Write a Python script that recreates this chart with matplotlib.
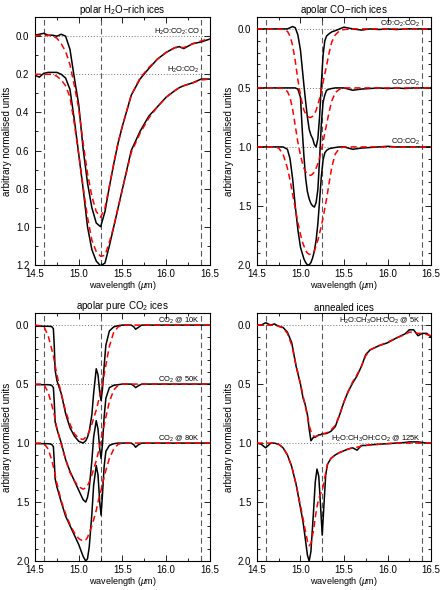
import matplotlib.pyplot as plt
from matplotlib.ticker import MultipleLocator, FormatStrFormatter

plt.rcParams['font.family'] = ['Liberation Sans', 'DejaVu Sans']
plt.rcParams['mathtext.fontset'] = 'custom'
plt.rcParams['mathtext.rm'] = 'Liberation Sans'
plt.rcParams['mathtext.it'] = 'Liberation Sans:italic'

#==================== panel 1 : polar H2O-rich ices ====================
wl1 = [14.5, 14.55, 14.6, 14.65, 14.7, 14.75, 14.8, 14.85, 14.9, 14.95, 15.0, 15.05,
       15.1, 15.15, 15.2, 15.25, 15.3, 15.35, 15.4, 15.45, 15.5, 15.6, 15.7, 15.8,
       15.9, 16.0, 16.1, 16.15, 16.2, 16.3, 16.4, 16.5]
h2o_co2_co = [-0.005, -0.01, -0.015, -0.005, -0.005, 0.0, -0.01, 0.0, 0.07, 0.22, 0.36, 0.59,
              0.77, 0.9, 0.98, 1.0, 0.92, 0.79, 0.67, 0.56, 0.47, 0.31, 0.225, 0.17,
              0.12, 0.085, 0.06, 0.055, 0.065, 0.04, 0.03, 0.015]
h2o_co2_co_fit = [0.0, -0.005, 0.0, -0.005, 0.0, 0.01, 0.04, 0.08, 0.15, 0.26, 0.38, 0.56,
                  0.72, 0.84, 0.92, 0.95, 0.9, 0.79, 0.67, 0.56, 0.47, 0.31, 0.22, 0.165,
                  0.12, 0.085, 0.06, 0.06, 0.06, 0.04, 0.025, 0.012]
h2o_co2 = [0.205, 0.215, 0.195, 0.19, 0.19, 0.19, 0.2, 0.22, 0.28, 0.44, 0.62, 0.8,
           1.0, 1.12, 1.18, 1.205, 1.19, 1.1, 1.0, 0.9, 0.8, 0.6, 0.5, 0.42,
           0.37, 0.32, 0.285, 0.27, 0.26, 0.245, 0.225, 0.225]
h2o_co2_fit = [0.2, 0.2, 0.2, 0.2, 0.2, 0.21, 0.23, 0.26, 0.32, 0.46, 0.62, 0.79,
               0.95, 1.07, 1.13, 1.155, 1.15, 1.08, 1.0, 0.9, 0.8, 0.61, 0.51, 0.43,
               0.37, 0.32, 0.285, 0.27, 0.26, 0.245, 0.23, 0.225]

#==================== panel 2 : apolar CO-rich ices ====================
wl2 = [14.5, 14.6, 14.7, 14.75, 14.8, 14.85, 14.88, 14.91, 14.94, 14.97, 15.0, 15.02,
       15.04, 15.06, 15.08, 15.1, 15.12, 15.14, 15.16, 15.18, 15.2, 15.22, 15.24, 15.26,
       15.28, 15.3, 15.33, 15.36, 15.4, 15.45, 15.5, 15.6, 15.7, 15.8, 15.9, 16.0,
       16.1, 16.2, 16.3, 16.4, 16.5]
co_o2_co2 = [0.0, 0.0, 0.0, 0.0, 0.0, 0.0, -0.01, -0.02, -0.01, 0.05, 0.18, 0.33,
             0.48, 0.62, 0.75, 0.85, 0.9, 0.93, 0.98, 1.0, 0.93, 0.74, 0.46, 0.22,
             0.1, 0.06, 0.04, 0.025, 0.015, 0.0, -0.015, 0.0, 0.01, 0.0, 0.005, 0.0,
             0.005, 0.0, 0.0, 0.0, 0.0]
co_o2_co2_fit = [0.0, 0.0, 0.0, 0.0, 0.005, 0.02, 0.06, 0.14, 0.27, 0.43, 0.56, 0.63,
                 0.69, 0.72, 0.74, 0.75, 0.75, 0.74, 0.72, 0.69, 0.64, 0.59, 0.52, 0.45,
                 0.38, 0.31, 0.2, 0.11, 0.05, 0.015, 0.005, 0.0, 0.0, 0.0, 0.0, 0.0,
                 0.0, 0.0, 0.0, 0.0, 0.0]
co_co2_a = [0.5, 0.5, 0.5, 0.5, 0.5, 0.5, 0.5, 0.5, 0.5, 0.51, 0.58, 0.85,
            1.08, 1.27, 1.38, 1.44, 1.48, 1.5, 1.51, 1.47, 1.36, 1.1, 0.8, 0.62,
            0.56, 0.52, 0.51, 0.505, 0.5, 0.5, 0.5, 0.52, 0.51, 0.505, 0.5, 0.505,
            0.5, 0.505, 0.5, 0.5, 0.5]
co_co2_a_fit = [0.5, 0.5, 0.5, 0.5, 0.505, 0.53, 0.58, 0.68, 0.82, 0.96, 1.07, 1.13,
                1.18, 1.21, 1.23, 1.24, 1.24, 1.23, 1.21, 1.18, 1.14, 1.09, 1.03, 0.96,
                0.88, 0.81, 0.7, 0.61, 0.54, 0.51, 0.5, 0.5, 0.5, 0.5, 0.5, 0.5,
                0.5, 0.5, 0.5, 0.5, 0.5]
co_co2_b = [1.0, 1.0, 1.0, 1.0, 1.0, 1.02, 1.1, 1.27, 1.5, 1.7, 1.85, 1.9,
            1.95, 1.98, 2.0, 2.0, 1.98, 1.94, 1.88, 1.79, 1.65, 1.45, 1.25, 1.11,
            1.05, 1.03, 1.015, 1.01, 1.005, 1.0, 1.0, 1.02, 1.01, 1.005, 1.0, 0.995,
            1.0, 1.0, 1.0, 1.0, 1.0]
co_co2_b_fit = [1.0, 1.0, 1.0, 1.01, 1.06, 1.18, 1.28, 1.4, 1.52, 1.64, 1.74, 1.8,
                1.84, 1.88, 1.9, 1.91, 1.91, 1.9, 1.88, 1.84, 1.79, 1.73, 1.67, 1.6,
                1.52, 1.44, 1.3, 1.17, 1.06, 1.01, 1.0, 1.0, 1.0, 1.0, 1.0, 1.0,
                1.0, 1.0, 1.0, 1.0, 1.0]

#==================== panel 3 : apolar pure CO2 ices ====================
wl3 = [14.5, 14.6, 14.65, 14.69, 14.71, 14.72, 14.73, 14.75, 14.8, 14.85, 14.9, 14.95,
       15.0, 15.05, 15.08, 15.1, 15.12, 15.15, 15.17, 15.2, 15.22, 15.24, 15.255, 15.27,
       15.29, 15.31, 15.35, 15.4, 15.45, 15.5, 15.6, 15.63, 15.65, 15.68, 15.72, 15.8,
       16.0, 16.2, 16.4, 16.5]
co2_10k = [0.01, 0.01, 0.01, 0.012, 0.03, 0.17, 0.38, 0.47, 0.58, 0.75, 0.87, 0.94,
           0.985, 1.0, 0.98, 0.95, 0.9, 0.76, 0.58, 0.37, 0.42, 0.57, 0.64, 0.55,
           0.35, 0.17, 0.05, 0.015, 0.005, 0.0, 0.0, 0.015, 0.035, 0.02, 0.0, 0.0,
           0.0, 0.0, 0.0, 0.0]
co2_10k_fit = [0.0, 0.01, 0.09, 0.2, 0.26, 0.3, 0.34, 0.42, 0.58, 0.73, 0.84, 0.92,
               0.96, 0.97, 0.95, 0.93, 0.9, 0.84, 0.79, 0.72, 0.66, 0.6, 0.55, 0.5,
               0.42, 0.34, 0.18, 0.06, 0.015, 0.0, 0.0, 0.0, 0.0, 0.0, 0.0, 0.0,
               0.0, 0.0, 0.0, 0.0]
co2_50k = [0.505, 0.505, 0.505, 0.51, 0.53, 0.65, 0.82, 0.88, 1.0, 1.14, 1.24, 1.32,
           1.4, 1.48, 1.5, 1.46, 1.38, 1.15, 0.95, 0.81, 0.88, 1.05, 1.13, 1.02,
           0.78, 0.62, 0.53, 0.51, 0.505, 0.5, 0.5, 0.515, 0.53, 0.515, 0.5, 0.5,
           0.5, 0.5, 0.5, 0.5]
co2_50k_fit = [0.5, 0.5, 0.57, 0.67, 0.73, 0.76, 0.8, 0.87, 1.01, 1.14, 1.25, 1.32,
               1.37, 1.39, 1.38, 1.36, 1.33, 1.27, 1.22, 1.15, 1.09, 1.02, 0.97, 0.92,
               0.85, 0.78, 0.65, 0.55, 0.51, 0.5, 0.5, 0.5, 0.5, 0.5, 0.5, 0.5,
               0.5, 0.5, 0.5, 0.5]
co2_80k = [1.005, 1.005, 1.005, 1.01, 1.03, 1.15, 1.3, 1.37, 1.5, 1.62, 1.7, 1.78,
           1.86, 1.96, 2.0, 1.98, 1.88, 1.6, 1.36, 1.19, 1.27, 1.5, 1.61, 1.45,
           1.2, 1.07, 1.02, 1.005, 1.0, 1.0, 1.0, 1.015, 1.035, 1.015, 1.0, 1.0,
           1.0, 1.0, 1.0, 1.0]
co2_80k_fit = [1.0, 1.0, 1.05, 1.14, 1.2, 1.23, 1.27, 1.34, 1.49, 1.6, 1.69, 1.76,
               1.81, 1.83, 1.82, 1.8, 1.76, 1.7, 1.65, 1.57, 1.5, 1.44, 1.4, 1.35,
               1.29, 1.23, 1.13, 1.05, 1.01, 1.0, 1.0, 1.0, 1.0, 1.0, 1.0, 1.0,
               1.0, 1.0, 1.0, 1.0]

#==================== panel 4 : annealed ices ====================
wl4 = [14.5, 14.55, 14.6, 14.63, 14.66, 14.7, 14.75, 14.8, 14.85, 14.9, 14.95, 15.0,
       15.03, 15.05, 15.08, 15.1, 15.12, 15.15, 15.17, 15.19, 15.21, 15.23, 15.25, 15.27,
       15.29, 15.31, 15.35, 15.4, 15.45, 15.5, 15.55, 15.6, 15.65, 15.7, 15.75, 15.8,
       15.9, 16.0, 16.1, 16.2, 16.25, 16.3, 16.35, 16.4, 16.45, 16.5]
mix_5k = [0.0, 0.0, -0.02, -0.01, 0.0, -0.01, 0.01, 0.02, 0.06, 0.15, 0.35, 0.5,
          0.62, 0.66, 0.76, 0.88, 0.98, 0.95, 0.95, 0.94, 0.93, 0.93, 0.92, 0.92,
          0.92, 0.915, 0.9, 0.86, 0.76, 0.65, 0.56, 0.49, 0.43, 0.35, 0.25, 0.21,
          0.175, 0.15, 0.11, 0.075, 0.04, 0.04, 0.09, 0.07, 0.07, 0.1]
mix_5k_fit = [0.0, 0.0, 0.0, 0.0, 0.0, 0.0, 0.01, 0.025, 0.07, 0.17, 0.34, 0.5,
              0.6, 0.67, 0.77, 0.85, 0.9, 0.94, 0.945, 0.94, 0.935, 0.93, 0.925, 0.92,
              0.915, 0.91, 0.89, 0.85, 0.76, 0.65, 0.56, 0.48, 0.42, 0.35, 0.26, 0.21,
              0.175, 0.145, 0.11, 0.08, 0.06, 0.06, 0.07, 0.07, 0.08, 0.09]
mix_125k = [1.0, 1.01, 1.04, 1.02, 1.0, 1.0, 1.01, 1.04, 1.1, 1.2, 1.35, 1.55,
            1.67, 1.78, 1.95, 2.0, 1.92, 1.58, 1.33, 1.22, 1.28, 1.52, 1.78, 1.52,
            1.27, 1.18, 1.13, 1.1, 1.08, 1.065, 1.05, 1.04, 1.06, 1.02, 1.02, 1.015,
            1.01, 1.005, 1.0, 0.995, 0.99, 0.99, 0.99, 0.995, 1.0, 1.0]
mix_125k_fit = [1.0, 1.0, 1.0, 1.0, 1.0, 1.0, 1.01, 1.04, 1.1, 1.2, 1.35, 1.53,
                1.64, 1.72, 1.83, 1.87, 1.85, 1.74, 1.63, 1.54, 1.47, 1.43, 1.4, 1.33,
                1.25, 1.18, 1.13, 1.1, 1.08, 1.065, 1.05, 1.04, 1.035, 1.025, 1.02, 1.015,
                1.01, 1.005, 1.0, 1.0, 1.0, 1.0, 1.0, 1.0, 1.0, 1.0]

vlines = [14.6, 15.25, 16.4]   # wavelength markers

# (axes position, title, y bottom, y major step, wavelengths, curves)
panels = [
    ([0.079, 0.551, 0.395, 0.420], 'polar H$_2$O$-$rich ices', 1.2, 0.2, wl1,
     [(h2o_co2_co, h2o_co2_co_fit, 'H$_2$O:CO$_2$:CO', 0.0),
      (h2o_co2, h2o_co2_fit, 'H$_2$O:CO$_2$', 0.2)]),
    ([0.580, 0.551, 0.393, 0.420], 'apolar CO$-$rich ices', 2.0, 0.5, wl2,
     [(co_o2_co2, co_o2_co2_fit, 'CO:O$_2$:CO$_2$', 0.0),
      (co_co2_a, co_co2_a_fit, 'CO:CO$_2$', 0.5),
      (co_co2_b, co_co2_b_fit, 'CO:CO$_2$', 1.0)]),
    ([0.079, 0.049, 0.395, 0.420], 'apolar pure CO$_2$ ices', 2.0, 0.5, wl3,
     [(co2_10k, co2_10k_fit, 'CO$_2$ @ 10K', 0.0),
      (co2_50k, co2_50k_fit, 'CO$_2$ @ 50K', 0.5),
      (co2_80k, co2_80k_fit, 'CO$_2$ @ 80K', 1.0)]),
    ([0.580, 0.049, 0.393, 0.420], 'annealed ices', 2.0, 0.5, wl4,
     [(mix_5k, mix_5k_fit, 'H$_2$O:CH$_3$OH:CO$_2$ @ 5K', 0.0),
      (mix_125k, mix_125k_fit, 'H$_2$O:CH$_3$OH:CO$_2$ @ 125K', 1.0)]),
]

fig = plt.figure(figsize=(4.43, 5.90), dpi=100)

for pos, title, ybot, ystep, wl, curves in panels:
    ax = fig.add_axes(pos)
    for x in vlines:
        ax.axvline(x, color='0.35', ls=(0, (5, 3)), lw=0.8, zorder=1)
    span = ybot + 0.1
    for black, red, label, base in curves:
        ax.axhline(base, color='0.45', ls=(0, (1, 2)), lw=0.7, zorder=1)
        ax.plot(wl, black, color='black', lw=1.1, zorder=3)
        ax.plot(wl, red, color='red', ls=(0, (4, 2.5)), lw=1.1, zorder=4)
        ax.text(16.38, base - 0.011 * span, label, ha='right', va='baseline',
                fontsize=5.4, zorder=5)
    ax.set_xlim(14.5, 16.5)
    ax.set_ylim(ybot, -0.1)
    ax.xaxis.set_major_locator(MultipleLocator(0.5))
    ax.xaxis.set_minor_locator(MultipleLocator(0.25))
    ax.yaxis.set_major_locator(MultipleLocator(ystep))
    ax.yaxis.set_minor_locator(MultipleLocator(0.1))
    ax.xaxis.set_major_formatter(FormatStrFormatter('%.1f'))
    ax.yaxis.set_major_formatter(FormatStrFormatter('%.1f'))
    ax.tick_params(which='both', direction='in', top=True, right=True, width=0.6)
    ax.tick_params(which='major', length=4, labelsize=7)
    ax.tick_params(axis='x', which='major', pad=3)
    ax.tick_params(axis='y', which='major', pad=4)
    ax.tick_params(which='minor', length=2)
    for s in ax.spines.values():
        s.set_linewidth(0.8)
    ax.set_title(title, fontsize=7, pad=2)
    ax.set_xlabel('wavelength ($\\mu$m)', fontsize=6.5, labelpad=0)
    ax.set_ylabel('arbitrary normalised units', fontsize=7, labelpad=3)

fig.savefig('out.png', dpi=100)
